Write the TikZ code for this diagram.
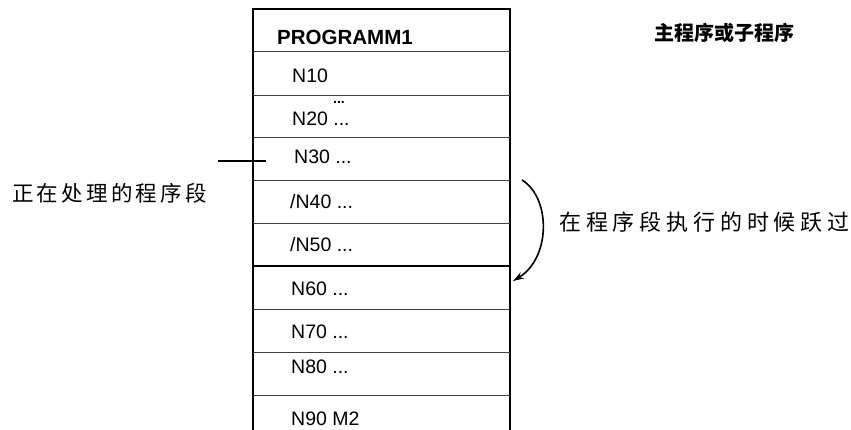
\documentclass[tikz,border=0pt]{standalone}
\usepackage{fontspec}
\setmainfont{Liberation Sans}
\newfontfamily\cjk{Noto Sans CJK SC}
\newfontfamily\cjkleft[LetterSpace=15]{Noto Sans CJK SC}
\newfontfamily\cjkright[LetterSpace=22]{Noto Sans CJK SC}
\usetikzlibrary{arrows.meta}
\tikzset{
    rowtext/.style={anchor=base west, inner sep=0pt, font=\fontsize{19.5}{22}\selectfont},
    rowline/.style={line width=1pt, black!75},
}
\begin{document}
\begin{tikzpicture}[x=1pt, y=-1pt]
    \useasboundingbox (0, 0) rectangle (851, 430);
    % program box, open at the bottom
    \draw[line width=2pt] (253, 438) -- (253, 9) -- (510, 9) -- (510, 438);
    \foreach \y in {52, 96, 138, 181, 224, 309, 352, 395}
        \draw[rowline] (253, \y) -- (510, \y);
    \draw[line width=2pt] (253, 266) -- (510, 266);
    % blocks
    \node[rowtext, font=\fontsize{20.5}{24}\selectfont\bfseries] (head) at (277, 45) {PROGRAMM1};
    \node[rowtext] (n10) at (292, 83) {N10};
    \node[rowtext, font=\fontsize{14}{16}\selectfont\bfseries] (dots) at (333, 104) {...};
    \node[rowtext] (n20) at (292, 126) {N20 ...};
    \node[rowtext] (n30) at (294, 164) {N30 ...};
    \node[rowtext] (n40) at (290, 209) {/N40 ...};
    \node[rowtext] (n50) at (290, 252) {/N50 ...};
    \node[rowtext] (n60) at (291, 295) {N60 ...};
    \node[rowtext] (n70) at (291, 338) {N70 ...};
    \node[rowtext] (n80) at (291, 373) {N80 ...};
    \node[rowtext] (n90) at (291, 425) {N90 M2};
    % labels
    \node[anchor=west, inner sep=0pt, font=\fontsize{21.5}{25}\cjkleft] (current) at (12, 193) {正在处理的程序段};
    \node[anchor=west, inner sep=0pt, font=\fontsize{22}{26}\cjkright] (skip) at (559, 222) {在程序段执行的时候跃过};
    \node[anchor=west, inner sep=0pt, font=\fontsize{20}{24}\cjk\bfseries] (title) at (654, 33) {主程序或子程序};
    % pointer and skip arc
    \coordinate (tick) at (218, 161);
    \coordinate (tickend) at (266, 161);
    \draw[line width=2pt] (tick) -- (tickend);
    \coordinate (skipfrom) at (522, 180);
    \coordinate (skipto) at (513, 281);
    \draw[line width=1.6pt, -{Stealth[length=11pt, width=7pt]}] (skipfrom) .. controls (551, 198) and (551, 258) .. (skipto);
\end{tikzpicture}
\end{document}
